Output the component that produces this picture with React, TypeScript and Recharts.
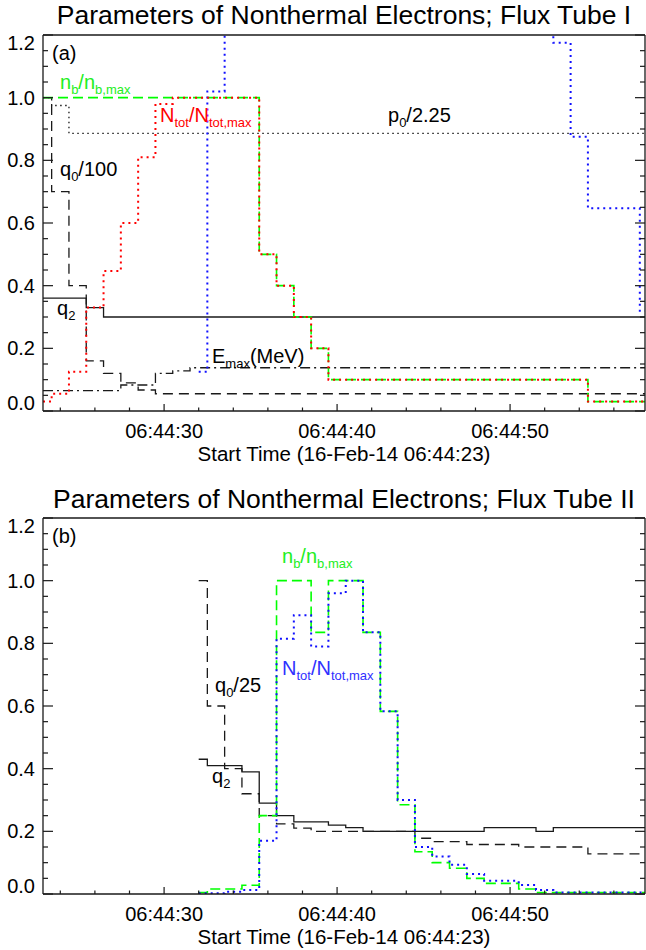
import React from 'react';
import { LineChart, Line, XAxis, YAxis } from 'recharts';

const T_START = 23;
const T_END = 57.8;

// ---- panel (a): flux tube I  (step edges in seconds after 06:44:00, values per bin)
const aNbEdges = [23, 35.5, 36.5, 37.5, 38.5, 39.5, 54.5, T_END];
const aNbVals = [1.0, 0.5, 0.4, 0.3, 0.2, 0.1, 0.03];
const aNtotEdges = [23, 23.5, 24.5, 25.5, 26.5, 27.5, 28.5, 29.5, 30.5, 35.5, 36.5, 37.5, 38.5, 39.5, 54.5, T_END];
const aNtotVals = [0.03, 0.055, 0.125, 0.33, 0.447, 0.6, 0.81, 0.98, 1.0, 0.5, 0.4, 0.3, 0.2, 0.1, 0.03];
const aBlueEdges = [32, 32.5, 33.5, 52.5, 53.5, 54.5, 57.5, T_END];
const aBlueVals = [0.125, 1.02, 2.0, 1.175, 0.875, 0.647, 0.32];
const aP0Edges = [23, 23.5, 24.5, T_END];
const aP0Vals = [1.0, 0.975, 0.886];
const aQ0Edges = [23, 23.5, 24.5, 25.5, 26.5, 27.5, 28.5, 29.5, T_END];
const aQ0Vals = [1.0, 0.7, 0.4, 0.16, 0.12, 0.09, 0.067, 0.055];
const aQ2Edges = [23, 25.5, 26.5, T_END];
const aQ2Vals = [0.36, 0.33, 0.3];
const aEmaxEdges = [23, 27.5, 29.5, 30.5, 31.5, T_END];
const aEmaxVals = [0.065, 0.083, 0.12, 0.128, 0.138];

// ---- panel (b): flux tube II
const bNbEdges = [32, 32.5, 34.5, 35.5, 36.5, 38.5, 39.5, 41.5, 42.5, 43.5, 44.5, 45.5, 46.5, 47.5, 48.5, 50.5, 51.5, T_END];
const bNbVals = [0.005, 0.016, 0.028, 0.25, 1.0, 0.835, 1.0, 0.835, 0.583, 0.285, 0.135, 0.1, 0.082, 0.05, 0.034, 0.016, 0.005];
const bNtotEdges = [32, 33.5, 34.5, 35.5, 36.5, 37.5, 38.5, 39.5, 40.5, 41.5, 42.5, 43.5, 44.5, 45.5, 46.5, 47.5, 48.5, 50.5, 51.5, 52.5, T_END];
const bNtotVals = [0.002, 0.007, 0.013, 0.17, 0.815, 0.89, 0.79, 0.96, 1.0, 0.835, 0.583, 0.3, 0.15, 0.12, 0.093, 0.064, 0.042, 0.029, 0.013, 0.005];
const bQ0Edges = [32, 32.5, 33.5, 34.5, 35.5, 36.5, 37.5, 38.5, 44.5, 45.5, 47.5, 50.5, 54.5, T_END];
const bQ0Vals = [1.0, 0.6, 0.4, 0.32, 0.25, 0.224, 0.21, 0.2, 0.178, 0.167, 0.158, 0.15, 0.128];
const bQ2Edges = [32, 32.5, 34.5, 35.5, 36.5, 37.5, 39.5, 40.5, 41.5, 48.5, 51.5, 52.5, T_END];
const bQ2Vals = [0.43, 0.41, 0.39, 0.29, 0.25, 0.23, 0.22, 0.212, 0.2, 0.212, 0.2, 0.212];

const yTicks = [0, 0.05, 0.1, 0.15, 0.2, 0.25, 0.3, 0.35, 0.4, 0.45, 0.5, 0.55, 0.6, 0.65, 0.7, 0.75, 0.8, 0.85, 0.9, 0.95, 1.0, 1.05, 1.1, 1.15, 1.2];
const xTicks = [24, 26, 28, 30, 32, 34, 36, 38, 40, 42, 44, 46, 48, 50, 52, 54, 56];
const xTickLabels: Record<number, string> = { 30: '06:44:30', 40: '06:44:40', 50: '06:44:50' };

const FONT = 'Liberation Sans, Arial, Helvetica, sans-serif';
const INK = '#1a1a1a';
const GREEN = '#00ff00';
const RED = '#ff0000';
const BLUE = '#1010ff';

function steps(edges: number[], vals: number[]) {
  const pts = vals.map((v, i) => ({ t: edges[i], v }));
  pts.push({ t: edges[edges.length - 1], v: vals[vals.length - 1] });
  return pts;
}

const isMajorY = (v: number) => Math.abs(v * 5 - Math.round(v * 5)) < 1e-6;

function LeftTick(props: any) {
  const { x, y, payload } = props;
  const v = payload.value;
  const major = isMajorY(v);
  let dy = 7;
  if (v < 0.01) dy -= 8;
  if (v > 1.19) dy += 8;
  return (
    <g>
      <line x1={x} x2={x + (major ? 10 : 5)} y1={y} y2={y} stroke={INK} strokeWidth={1.2} />
      {major && (
        <text x={x - 8} y={y + dy} textAnchor="end" fontSize={20} fontFamily={FONT} fill="#000">
          {v.toFixed(1)}
        </text>
      )}
    </g>
  );
}

function RightTick(props: any) {
  const { x, y, payload } = props;
  const major = isMajorY(payload.value);
  return <line x1={x} x2={x - (major ? 10 : 5)} y1={y} y2={y} stroke={INK} strokeWidth={1.2} />;
}

function BottomTick(props: any) {
  const { x, y, payload } = props;
  const label = xTickLabels[payload.value];
  return (
    <g>
      <line x1={x} x2={x} y1={y} y2={y - (label ? 7 : 3.5)} stroke={INK} strokeWidth={1.2} />
      {label && (
        <text x={x} y={y + 26.5} textAnchor="middle" fontSize={20} fontFamily={FONT} fill="#000">
          {label}
        </text>
      )}
    </g>
  );
}

function TopTick(props: any) {
  const { x, y } = props;
  return <line x1={x} x2={x} y1={y} y2={y + 7} stroke={INK} strokeWidth={1.2} />;
}

type Series = { data: { t: number; v: number }[]; color: string; dash?: string; width: number };

function Panel({ series }: { series: Series[] }) {
  return (
    <LineChart width={646} height={467} margin={{ top: 34, right: 0, bottom: 0, left: 0 }}>
      <XAxis
        xAxisId="b"
        dataKey="t"
        type="number"
        domain={[T_START, T_END]}
        allowDataOverflow
        ticks={xTicks}
        interval={0}
        height={56}
        tickSize={0}
        tickMargin={0}
        axisLine={{ stroke: INK, strokeWidth: 1.3 }}
        tick={(p: any) => <BottomTick {...p} />}
      />
      <XAxis
        xAxisId="top"
        orientation="top"
        type="number"
        domain={[T_START, T_END]}
        allowDataOverflow
        ticks={xTicks}
        interval={0}
        height={1}
        tickSize={0}
        tickMargin={0}
        axisLine={{ stroke: INK, strokeWidth: 1.3 }}
        tick={(p: any) => <TopTick {...p} />}
      />
      <YAxis
        yAxisId="l"
        type="number"
        domain={[0, 1.2]}
        allowDataOverflow
        ticks={yTicks}
        interval={0}
        width={43}
        tickSize={0}
        tickMargin={0}
        axisLine={{ stroke: INK, strokeWidth: 1.3 }}
        tick={(p: any) => <LeftTick {...p} />}
      />
      <YAxis
        yAxisId="r"
        orientation="right"
        type="number"
        domain={[0, 1.2]}
        allowDataOverflow
        ticks={yTicks}
        interval={0}
        width={1}
        tickSize={0}
        tickMargin={0}
        axisLine={{ stroke: INK, strokeWidth: 1.3 }}
        tick={(p: any) => <RightTick {...p} />}
      />
      {series.map((s, i) => (
        <Line
          key={i}
          xAxisId="b"
          yAxisId="l"
          data={s.data}
          dataKey="v"
          type="stepAfter"
          stroke={s.color}
          strokeWidth={s.width}
          strokeDasharray={s.dash}
          dot={false}
          activeDot={false}
          isAnimationActive={false}
        />
      ))}
    </LineChart>
  );
}

const panelA: Series[] = [
  { data: steps(aQ2Edges, aQ2Vals), color: INK, width: 1.3 },
  { data: steps(aEmaxEdges, aEmaxVals), color: INK, width: 1.3, dash: '10 4 2 4' },
  { data: steps(aQ0Edges, aQ0Vals), color: INK, width: 1.3, dash: '10 6' },
  { data: steps(aP0Edges, aP0Vals), color: INK, width: 1.3, dash: '1.5 3.5' },
  { data: steps(aBlueEdges, aBlueVals), color: BLUE, width: 2, dash: '2 4' },
  { data: steps(aNbEdges, aNbVals), color: GREEN, width: 1.6, dash: '10 5' },
  { data: steps(aNtotEdges, aNtotVals), color: RED, width: 2, dash: '2 4' },
];

const panelB: Series[] = [
  { data: steps(bQ2Edges, bQ2Vals), color: INK, width: 1.3 },
  { data: steps(bQ0Edges, bQ0Vals), color: INK, width: 1.3, dash: '10 6' },
  { data: steps(bNbEdges, bNbVals), color: GREEN, width: 1.6, dash: '10 5' },
  { data: steps(bNtotEdges, bNtotVals), color: BLUE, width: 2, dash: '2 4' },
];

function Lbl({ x, y, fill = '#000', parts }: { x: number; y: number; fill?: string; parts: [string, boolean][] }) {
  let low = false;
  return (
    <text x={x} y={y} fill={fill} fontSize={20} fontFamily={FONT}>
      {parts.map(([s, sub], i) => {
        const dy = sub && !low ? 5 : !sub && low ? -5 : 0;
        low = sub;
        return (
          <tspan key={i} dy={dy} fontSize={sub ? 13 : 20}>
            {s}
          </tspan>
        );
      })}
    </text>
  );
}

export default function App() {
  const title = (y: number, s: string) => (
    <text x={344} y={y} textAnchor="middle" fontSize={26.5} fontFamily={FONT} fill="#000">
      {s}
    </text>
  );
  const xTitle = (y: number) => (
    <text x={344} y={y} textAnchor="middle" fontSize={20.5} fontFamily={FONT} fill="#000">
      Start Time (16-Feb-14 06:44:23)
    </text>
  );
  return (
    <div style={{ position: 'absolute', left: 0, top: 0, width: 646, height: 950, overflow: 'hidden', background: '#fff' }}>
      <div style={{ position: 'absolute', left: 0, top: 0 }}>
        <Panel series={panelA} />
      </div>
      <div style={{ position: 'absolute', left: 0, top: 483 }}>
        <Panel series={panelB} />
      </div>
      <svg width={646} height={950} style={{ position: 'absolute', left: 0, top: 0, pointerEvents: 'none' }}>
        {title(24, 'Parameters of Nonthermal Electrons; Flux Tube I')}
        {xTitle(460.5)}
        <Lbl x={52} y={60} parts={[['(a)', false]]} />
        <Lbl x={60} y={89} fill="#22ee22" parts={[['n', false], ['b', true], ['/n', false], ['b,max', true]]} />
        <Lbl x={160} y={122} fill={RED} parts={[['N', false], ['tot', true], ['/N', false], ['tot,max', true]]} />
        <Lbl x={388} y={122} parts={[['p', false], ['0', true], ['/2.25', false]]} />
        <Lbl x={60} y={176} parts={[['q', false], ['0', true], ['/100', false]]} />
        <Lbl x={57} y={315} parts={[['q', false], ['2', true]]} />
        <Lbl x={212} y={363} parts={[['E', false], ['max', true], ['(MeV)', false]]} />

        {title(507.5, 'Parameters of Nonthermal Electrons; Flux Tube II')}
        {xTitle(944)}
        <Lbl x={52} y={543} parts={[['(b)', false]]} />
        <Lbl x={282} y={563} fill="#22ee22" parts={[['n', false], ['b', true], ['/n', false], ['b,max', true]]} />
        <Lbl x={282} y={675} fill="#3030ff" parts={[['N', false], ['tot', true], ['/N', false], ['tot,max', true]]} />
        <Lbl x={215} y={692} parts={[['q', false], ['0', true], ['/25', false]]} />
        <Lbl x={212} y={783} parts={[['q', false], ['2', true]]} />
      </svg>
    </div>
  );
}
